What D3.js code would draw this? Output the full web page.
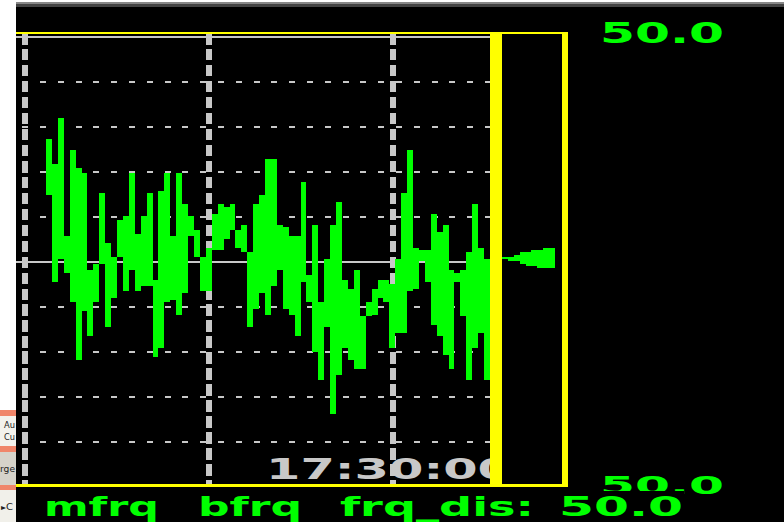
<!DOCTYPE html>
<html><head><meta charset="utf-8">
<script src="https://cdn.jsdelivr.net/npm/d3@7"></script>
<style>html,body{margin:0;padding:0;background:#000;overflow:hidden}</style>
</head><body>
<script>
// Per-column envelope of frequency deviation (mHz from 50.0 Hz)
const hiVals = [27.3,21.8,32.0,5.8,24.9,20.9,19.8,-1.8,-0.4,15.3,4.2,1.1,9.3,10.2,19.8,6.2,10.2,15.3,-4.0,15.8,19.8,5.8,19.8,12.9,10.2,7.1,1.1,3.1,10.7,12.9,12.2,12.9,7.1,8.2,2.2,12.9,14.9,22.9,22.9,8.2,7.8,5.8,5.8,17.8,-2.9,8.2,-8.9,0.7,8.2,13.3,-4.0,-6.0,-1.8,-12.0,-8.9,-6.0,-4.0,-4.0,-4.9,0.7,15.3,24.9,3.1,2.7,2.7,10.7,6.7,8.2,-1.8,-2.4,-1.8,2.2,12.9,3.1,0.7];
const loVals = [14.9,-4.4,0.7,-2.4,-8.9,-21.6,-10.9,-16.4,-8.9,-0.4,-14.4,-8.0,1.1,-6.4,-1.8,-6.4,-5.3,-5.3,-21.1,-19.1,-8.9,-8.4,-11.6,-6.9,5.8,1.1,-6.4,-6.4,2.7,2.7,5.1,7.1,3.1,2.2,-14.4,-10.4,-6.9,-11.6,-5.3,-1.8,-10.4,-11.6,-16.4,-4.4,-8.9,-20.0,-26.2,-14.4,-33.8,-25.1,-19.1,-21.6,-23.6,-23.6,-12.0,-11.6,-8.0,-8.9,-19.1,-15.6,-15.6,-6.4,-6.0,0.2,-4.4,-14.0,-16.4,-20.7,-23.6,-4.4,-12.0,-26.2,-19.1,-15.6,-26.2];
// live tail after the cursor
const tailHi = [1.1,1.1,1.6,2.2,2.2,2.7,2.7,3.1,3.1];
const tailLo = [0.7,0.2,0.2,-0.4,-0.9,-0.9,-1.3,-1.3,-1.3];
const yTicks = [-40,-30,-20,-10,0,10,20,30,40,50];
const solidTicks = [0,50];
const xGridIdx = [-3.5,27.55,58.6];
const timeLabel = "17:30:00";
const topLabel = "50.0";
const bottomLabel = "50.0";
const statusWords = ["mfrq","bfrq","frq_dis:","50.0"];

const W=784,H=522;
const GREEN="#00ff00",YEL="#ffff00",GRAY="#c8c8c8";
const svg=d3.select("body").append("svg").attr("width",W).attr("height",H)
  .style("display","block").attr("shape-rendering","crispEdges");

const nCols=hiVals.length;
const x=d3.scaleLinear().domain([0,nCols]).range([46,490]);
const y=d3.scaleLinear().domain([-50,50]).range([487.3,37.3]);
const FONT="'DejaVu Sans', sans-serif";

svg.append("rect").attr("width",W).attr("height",H).attr("fill","#000");

const defs=svg.append("defs");
defs.append("clipPath").attr("id","plotclip").append("rect")
  .attr("x",16).attr("y",32).attr("width",490-16).attr("height",455);

const plot=svg.append("g").attr("clip-path","url(#plotclip)");

// horizontal grid
plot.selectAll("line.h").data(yTicks).join("line")
  .attr("x1",d=>solidTicks.includes(d)?16:22.2).attr("x2",490)
  .attr("y1",d=>Math.round(y(d))).attr("y2",d=>Math.round(y(d)))
  .attr("stroke",GRAY).attr("stroke-width",2)
  .attr("stroke-dasharray",d=>solidTicks.includes(d)?null:"6 11.8");

// vertical grid
plot.selectAll("line.v").data(xGridIdx).join("line")
  .attr("x1",d=>Math.round(x(d))).attr("x2",d=>Math.round(x(d)))
  .attr("y1",33).attr("y2",486)
  .attr("stroke",GRAY).attr("stroke-width",6)
  .attr("stroke-dasharray","11.5 4.47");

// envelope columns
const cols=d3.range(nCols).map(i=>({i,hi:hiVals[i],lo:loVals[i]}));
plot.selectAll("rect.c").data(cols).join("rect")
  .attr("x",d=>Math.round(x(d.i)))
  .attr("width",d=>Math.round(x(d.i+1))-Math.round(x(d.i)))
  .attr("y",d=>Math.round(y(d.hi)))
  .attr("height",d=>Math.round(y(d.lo))-Math.round(y(d.hi)))
  .attr("fill",GREEN);

// time label
plot.append("text").attr("x",266).attr("y",479)
  .attr("font-family",FONT).attr("font-weight","bold").attr("font-size",27.5)
  .attr("fill",GRAY).attr("textLength",246).attr("lengthAdjust","spacingAndGlyphs")
  .text(timeLabel);

// tail after cursor
const tail=d3.range(tailHi.length).map(k=>({i:nCols+2+k,hi:tailHi[k],lo:tailLo[k]}));
svg.selectAll("rect.t").data(tail).join("rect")
  .attr("x",d=>Math.round(x(d.i)))
  .attr("width",d=>Math.round(x(d.i+1))-Math.round(x(d.i)))
  .attr("y",d=>Math.round(y(d.hi)))
  .attr("height",d=>Math.round(y(d.lo))-Math.round(y(d.hi)))
  .attr("fill",GREEN);

// yellow frame + cursor
svg.append("rect").attr("x",16).attr("y",32).attr("width",568-16).attr("height",2).attr("fill",YEL);
svg.append("rect").attr("x",16).attr("y",484).attr("width",568-16).attr("height",3).attr("fill",YEL);
svg.append("rect").attr("x",562).attr("y",32).attr("width",6).attr("height",455).attr("fill",YEL);
svg.append("rect").attr("x",Math.round(x(nCols))).attr("y",32)
  .attr("width",Math.round(x(nCols+2))-Math.round(x(nCols))).attr("height",455).attr("fill",YEL);

// scale labels
svg.append("text").attr("x",600).attr("y",43)
  .attr("font-family",FONT).attr("font-weight","bold").attr("font-size",29)
  .attr("fill",GREEN).attr("textLength",124).attr("lengthAdjust","spacingAndGlyphs")
  .text(topLabel);
svg.append("text").attr("x",600).attr("y",494)
  .attr("font-family",FONT).attr("font-weight","bold").attr("font-size",25)
  .attr("fill",GREEN).attr("textLength",124).attr("lengthAdjust","spacingAndGlyphs")
  .text(bottomLabel);

// status bar
svg.append("rect").attr("x",16).attr("y",491).attr("width",684-16).attr("height",31).attr("fill","#000");
const statusPos=[[44,115],[198,104],[340,194],[559,124]];
svg.selectAll("text.s").data(statusWords).join("text")
  .attr("x",(d,i)=>statusPos[i][0]).attr("y",516)
  .attr("font-family",FONT).attr("font-weight","bold").attr("font-size",26)
  .attr("fill",GREEN).attr("textLength",(d,i)=>statusPos[i][1]).attr("lengthAdjust","spacingAndGlyphs")
  .text(d=>d);

// window chrome top
svg.append("rect").attr("x",0).attr("y",0).attr("width",W).attr("height",2).attr("fill","#ffffff");
svg.append("rect").attr("x",0).attr("y",2).attr("width",W).attr("height",2).attr("fill","#888888");
svg.append("rect").attr("x",0).attr("y",4).attr("width",W).attr("height",3).attr("fill","#444444");

// left side panel fragment
const lp=svg.append("g");
lp.append("rect").attr("x",0).attr("y",0).attr("width",16).attr("height",H).attr("fill","#ffffff");
const bands=[[410,6,"#f0866a"],[416,30,"#f3f2ec"],[446,6,"#f0866a"],[452,33,"#d6d3ca"],[485,5,"#f0866a"],[490,32,"#f1f0ea"]];
lp.selectAll("rect.b").data(bands).join("rect")
  .attr("x",0).attr("y",d=>d[0]).attr("width",16).attr("height",d=>d[1]).attr("fill",d=>d[2]);
[["Au",4,428,11],["Cu",4,440,11],["rge",0,472,15],["\u25B8C",1,510,12]].forEach(t=>{
  lp.append("text").attr("x",t[1]).attr("y",t[2]).attr("font-family","'DejaVu Sans', sans-serif")
   .attr("font-size",8).attr("fill","#222")
   .attr("textLength",t[3]).attr("lengthAdjust","spacingAndGlyphs").text(t[0]);
});
</script>
</body></html>
